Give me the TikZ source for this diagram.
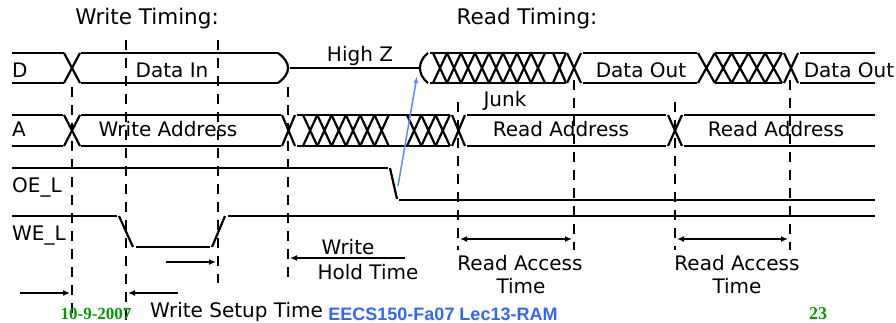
\documentclass[tikz,border=0pt]{standalone}
\usepackage{fontspec}
\setmainfont{DejaVu Sans}
\newfontfamily\footserif{Liberation Serif}
\newfontfamily\footsans{Liberation Sans}
\usetikzlibrary{arrows.meta}

\definecolor{slidegreen}{RGB}{0,155,0}
\definecolor{slideblue}{RGB}{51,102,255}
\definecolor{ptrblue}{RGB}{85,140,255}

\tikzset{
	sig/.style={line width=2.2pt},
	guide/.style={line width=2pt,dash pattern=on 10pt off 8pt},
	dim/.style={line width=1.8pt,-{Latex[length=7pt,width=6pt]}},
	lbl/.style={font=\fontsize{20}{22}\selectfont,inner sep=0pt,anchor=base},
}

\begin{document}
\begin{tikzpicture}[x=1pt,y=-1pt]
			\useasboundingbox (0,0) rectangle (896,323);
			\node[lbl,font=\fontsize{21.5}{24}\selectfont] (wtime) at (147,25) {Write Timing:};
			\node[lbl,font=\fontsize{21.5}{24}\selectfont] (rtime) at (527,25) {Read Timing:};
			\node[lbl,anchor=base west] (dlab) at (12,78) {D};
			\node[lbl,anchor=base west] (alab) at (12,137) {A};
			\node[lbl,anchor=base west] (oelab) at (12,193) {OE\_L};
			\node[lbl,anchor=base west] (welab) at (12,240) {WE\_L};
			% D bus
			\draw[sig] (12,53)--(64,53) (12,83)--(64,83);
			\draw[sig] (64,53)--(80,83) (64,83)--(80,53);
			\draw[sig] (81,53)--(278,53) (81,83)--(278,83);
			\draw[sig] (278,53) .. controls (285,58) and (288,63) .. (288,68) .. controls (288,73) and (285,78) .. (278,83);
			\draw[sig] (290,68)--(419,68);
			\draw[sig] (428,53) .. controls (422,58) and (420,63) .. (420,68) .. controls (420,73) and (422,78) .. (428,83);
			\draw[sig] (430,53)--(566,53) (430,83)--(566,83);
			\foreach \i in {0,...,7}
				\draw[sig] (433+14*\i,53)--(447+14*\i,83) (433+14*\i,83)--(447+14*\i,53);
			\draw[sig] (553,53)--(566,83) (553,83)--(566,53);
			\draw[sig] (567,53)--(581,83) (567,83)--(581,53);
			\draw[sig] (583,53)--(697,53) (583,83)--(697,83);
			\foreach \i in {0,...,4}
				\draw[sig] (698+16.8*\i,53)--(714.8+16.8*\i,83) (698+16.8*\i,83)--(714.8+16.8*\i,53);
			\draw[sig] (715,53)--(782,53) (715,83)--(782,83);
			\draw[sig] (784,53)--(798,83) (784,83)--(798,53);
			\draw[sig] (800,53)--(875,53) (800,83)--(875,83);
			\node[lbl] (din) at (172,78) {Data In};
			\node[lbl] (highz) at (360,62) {High Z};
			\node[lbl] (douta) at (641,78) {Data Out};
			\node[lbl] (doutb) at (849,78) {Data Out};
			\node[lbl] (junk) at (505,107) {Junk};
			% A bus
			\draw[sig] (12,115)--(63,115) (12,146)--(63,146);
			\draw[sig] (64,115)--(80,146) (64,146)--(80,115);
			\draw[sig] (81,115)--(281,115) (81,146)--(281,146);
			\draw[sig] (282,115)--(295,146) (282,146)--(295,115);
			\draw[sig] (297,115)--(450,115) (297,146)--(450,146);
			\foreach \i in {0,...,5}
				\draw[sig] (303+14.3*\i,115)--(317.3+14.3*\i,146) (303+14.3*\i,146)--(317.3+14.3*\i,115);
			\foreach \i in {0,...,2}
				\draw[sig] (407+14.3*\i,115)--(421.3+14.3*\i,146) (407+14.3*\i,146)--(421.3+14.3*\i,115);
			\draw[sig] (452,115)--(465,146) (452,146)--(465,115);
			\draw[sig] (467,115)--(666,115) (467,146)--(666,146);
			\draw[sig] (668,115)--(682,146) (668,146)--(682,115);
			\draw[sig] (684,115)--(875,115) (684,146)--(875,146);
			\node[lbl] (waddr) at (168,137) {Write Address};
			\node[lbl] (raddra) at (561,137) {Read Address};
			\node[lbl] (raddrb) at (776,137) {Read Address};
			% OE_L and WE_L
			\coordinate (oefall) at (398,186);
			\coordinate (dopen) at (417,76);
			\draw[sig] (12,168)--(388,168);
			\draw[sig] (390,168)--(397,199);
			\draw[sig] (399,200)--(875,200);
			\draw[sig] (12,216)--(117,216);
			\draw[sig] (119,216)--(133,247);
			\draw[sig] (136,247)--(210,247);
			\draw[sig] (212,247)--(225,216);
			\draw[sig] (228,216)--(875,216);
			\draw[ptrblue,line width=1.5pt,-{Latex[length=7pt,width=5pt]}] (oefall)--(dopen);
			% guides
			\coordinate (g1) at (72,87);
			\coordinate (g2) at (126,40);
			\coordinate (g3) at (218,40);
			\coordinate (g4) at (288,87);
			\coordinate (g5) at (458,102);
			\coordinate (g6) at (574,80);
			\coordinate (g7) at (675,102);
			\coordinate (g8) at (790,80);
			\draw[guide] (g1)--++(0,231);
			\draw[guide] (g2)--++(0,283);
			\draw[guide] (g3)--++(0,243);
			\draw[guide] (g4)--++(0,190);
			\draw[guide] (g5)--++(0,148);
			\draw[guide] (g6)--++(0,170);
			\draw[guide] (g7)--++(0,148);
			\draw[guide] (g8)--++(0,170);
			% timing arrows
			\coordinate (su1) at (20,293);
			\coordinate (su2) at (178,293);
			\coordinate (su3) at (166,262);
			\coordinate (ho1) at (405,258);
			\coordinate (ra1) at (460,239);
			\coordinate (ra2) at (677,239);
			\draw[dim] (su1)--([xshift=-2]su1-|g1);
			\draw[dim] (su2)--([xshift=2]su2-|g2);
			\draw[dim] (su3)--([xshift=-2]su3-|g3);
			\draw[dim] (ho1)--([xshift=2]ho1-|g4);
			\draw[dim,{Latex[length=7pt,width=6pt]}-{Latex[length=7pt,width=6pt]}] (ra1)--([xshift=-2]ra1-|g6);
			\draw[dim,{Latex[length=7pt,width=6pt]}-{Latex[length=7pt,width=6pt]}] (ra2)--([xshift=-2]ra2-|g8);
			\node[lbl,anchor=base west] (setup) at (150,317) {Write Setup Time};
			\node[lbl] (holda) at (348,254) {Write};
			\node[lbl] (holdb) at (368,279) {Hold Time};
			\node[lbl] (acca) at (520,270) {Read Access};
			\node[lbl] (accb) at (521,293) {Time};
			\node[lbl] (accc) at (737,270) {Read Access};
			\node[lbl] (accd) at (737,293) {Time};
			% footer
			\node[inner sep=0pt,anchor=base,text=slidegreen,font=\footserif\bfseries\fontsize{17}{17}\selectfont] (date) at (96,319) {10-9-2007};
			\node[inner sep=0pt,anchor=base,text=slideblue,font=\footsans\bfseries\fontsize{18}{18}\selectfont] (course) at (443,320) {EECS150-Fa07 Lec13-RAM};
			\node[inner sep=0pt,anchor=base,text=slidegreen,font=\footserif\bfseries\fontsize{18}{18}\selectfont] (page) at (818,319) {23};
		\end{tikzpicture}
\end{document}
